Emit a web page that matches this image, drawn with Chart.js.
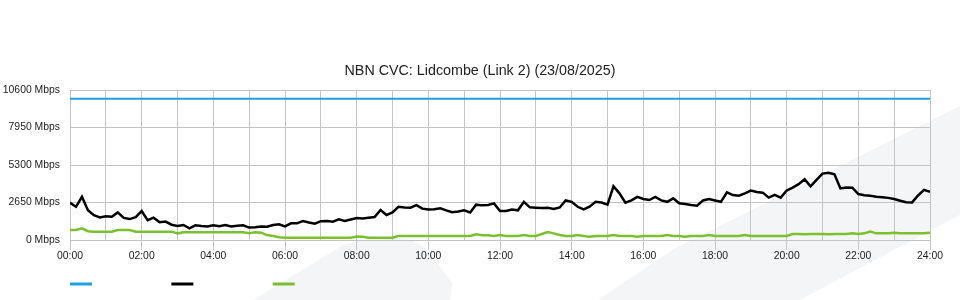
<!DOCTYPE html>
<html>
<head>
<meta charset="utf-8">
<title>NBN CVC: Lidcombe (Link 2)</title>
<script src="https://cdn.jsdelivr.net/npm/chart.js@4/dist/chart.umd.min.js"></script>
<style>
  html, body { margin: 0; padding: 0; background: #fff; }
  #wrap { position: relative; width: 960px; height: 300px; }
  #wrap svg, #wrap canvas { position: absolute; left: 0; top: 0; }
</style>
</head>
<body>
<div id="wrap">
  <!-- faint watermark behind the chart -->
  <svg width="960" height="300">
    <path d="M253,300 L343,245 Q372,236 400,238 Q420,240 433,257 L452,283 L450,300 Z" fill="#f4f5f7"/>
    <path d="M598,300 L672,250 L960,106 L960,215 L800,300 Z" fill="#f4f5f7"/>
  </svg>
  <canvas id="cvcChart" width="960" height="300"></canvas>
</div>
<script>
// title and axis labels
const chartTitle = 'NBN CVC: Lidcombe (Link 2) (23/08/2025)';
const xTickLabels = ['00:00', '02:00', '04:00', '06:00', '08:00', '10:00', '12:00',
  '14:00', '16:00', '18:00', '20:00', '22:00', '24:00'];
const yTickValues = [0, 2650, 5300, 7950, 10600];

// capacity line (flat)
const capacityHours = [0, 24];
const capacityMbps = [10000, 10000];

// 10 minute samples, 00:00 .. 24:00
const downloadMbps = [
  2636, 2350, 3060, 2100, 1750, 1600, 1680, 1650, 1950, 1560,
  1480, 1620, 2050, 1400, 1580, 1260, 1300, 1080, 990, 1060,
  830, 1040, 990, 960, 1040, 980, 1060, 950, 1000, 1040,
  880, 900, 960, 940, 1060, 1110, 960, 1180, 1180, 1340,
  1240, 1150, 1330, 1340, 1300, 1460, 1340, 1450, 1560, 1530,
  1580, 1620, 2120, 1770, 1950, 2350, 2300, 2290, 2470, 2220,
  2150, 2180, 2240, 2100, 1970, 2010, 2100, 1950, 2500, 2450,
  2480, 2590, 2050, 2050, 2150, 2100, 2700, 2310, 2290, 2260,
  2280, 2200, 2300, 2800, 2700, 2350, 2170, 2355, 2700, 2650,
  2500, 3800, 3300, 2636, 2800, 3050, 2900, 2830, 3050, 2800,
  2700, 2945, 2600, 2545, 2480, 2425, 2800, 2900, 2800, 2700,
  3370, 3180, 3130, 3300, 3500, 3400, 3350, 3000, 3200, 3000,
  3500, 3700, 3950, 4300, 3800, 4250, 4700, 4760, 4650, 3650,
  3720, 3700, 3250, 3170, 3130, 3060, 3030, 2980, 2900, 2780,
  2670, 2660, 3150, 3550, 3415
];

const uploadMbps = [
  707, 707, 825, 620, 590, 590, 590, 590, 707, 707,
  700, 590, 590, 590, 590, 590, 590, 590, 470, 543,
  543, 543, 543, 543, 543, 543, 543, 543, 543, 543,
  470, 543, 520, 350, 283, 200, 165, 165, 165, 165,
  165, 165, 165, 165, 165, 165, 165, 165, 250, 230,
  165, 165, 165, 165, 165, 283, 283, 283, 283, 283,
  283, 283, 283, 283, 283, 283, 283, 283, 400, 330,
  330, 283, 353, 283, 283, 283, 353, 283, 283, 420,
  560, 470, 353, 283, 283, 353, 283, 235, 283, 283,
  283, 353, 283, 283, 283, 235, 283, 283, 283, 283,
  353, 283, 283, 235, 283, 283, 283, 353, 283, 283,
  283, 283, 283, 353, 283, 283, 283, 283, 283, 283,
  283, 424, 424, 400, 424, 424, 424, 400, 424, 424,
  424, 470, 424, 470, 590, 470, 470, 470, 520, 470,
  470, 470, 470, 470, 520
];

const gridColour = '#c4c4c4';
const legendGap = ' '.repeat(22);

function toPoints(hours, values) {
  return values.map((v, i) => ({ x: hours[i], y: v }));
}

const sampleHours = downloadMbps.map((v, i) => i / 6);

Chart.defaults.font.family = '"Liberation Sans", Arial, sans-serif';
Chart.defaults.color = '#222';

new Chart(document.getElementById('cvcChart'), {
  type: 'line',
  data: {
    datasets: [
      {
        label: 'Capacity',
        data: toPoints(capacityHours, capacityMbps),
        borderColor: '#1ba1e2',
        backgroundColor: '#1ba1e2',
        borderWidth: 2,
        pointRadius: 0
      },
      {
        label: 'Download',
        data: toPoints(sampleHours, downloadMbps),
        borderColor: '#000000',
        backgroundColor: '#000000',
        borderWidth: 2.5,
        pointRadius: 0
      },
      {
        label: 'Upload',
        data: toPoints(sampleHours, uploadMbps),
        borderColor: '#7cbf2f',
        backgroundColor: '#7cbf2f',
        borderWidth: 2.5,
        pointRadius: 0
      }
    ]
  },
  options: {
    responsive: false,
    animation: false,
    plugins: {
      title: {
        display: true,
        text: chartTitle,
        color: '#222',
        font: { size: 14.3, weight: 'normal' },
        padding: { top: 62, bottom: 11 }
      },
      legend: {
        position: 'bottom',
        align: 'start',
        fullSize: false,
        labels: {
          boxWidth: 22,
          boxHeight: 3,
          padding: 0,
          font: { size: 12 },
          generateLabels: chart => chart.data.datasets.map((ds, i) => ({
            text: legendGap,
            fillStyle: ds.borderColor,
            strokeStyle: ds.borderColor,
            lineWidth: 0,
            hidden: false,
            datasetIndex: i
          }))
        }
      },
      tooltip: { enabled: false }
    },
    scales: {
      x: {
        type: 'linear',
        min: 0,
        max: 24,
        afterFit: scale => { scale.height = 38; },
        ticks: {
          stepSize: 1,
          autoSkip: false,
          maxRotation: 0,
          padding: 0,
          font: { size: 10.4 },
          callback: v => (v % 2 === 0 ? xTickLabels[v / 2] : '')
        },
        grid: {
          color: gridColour,
          tickLength: 10,
          tickColor: ctx => (ctx.tick && ctx.tick.value % 2 === 0 ? gridColour : 'rgba(0,0,0,0)')
        },
        border: { color: gridColour }
      },
      y: {
        min: 0,
        max: 10600,
        afterFit: scale => { scale.width = 70; },
        afterBuildTicks: scale => { scale.ticks = yTickValues.map(v => ({ value: v })); },
        ticks: {
          padding: 10,
          font: { size: 10.4 },
          callback: v => v + ' Mbps'
        },
        grid: { color: gridColour, drawTicks: false },
        border: { color: gridColour }
      },
      // empty right-hand gutter, keeps the plot clear of the right edge
      gutter: {
        position: 'right',
        min: 0,
        max: 10600,
        afterFit: scale => { scale.width = 30; },
        ticks: { display: false },
        grid: { display: false, drawTicks: false },
        border: { display: false }
      }
    }
  }
});
</script>
</body>
</html>
